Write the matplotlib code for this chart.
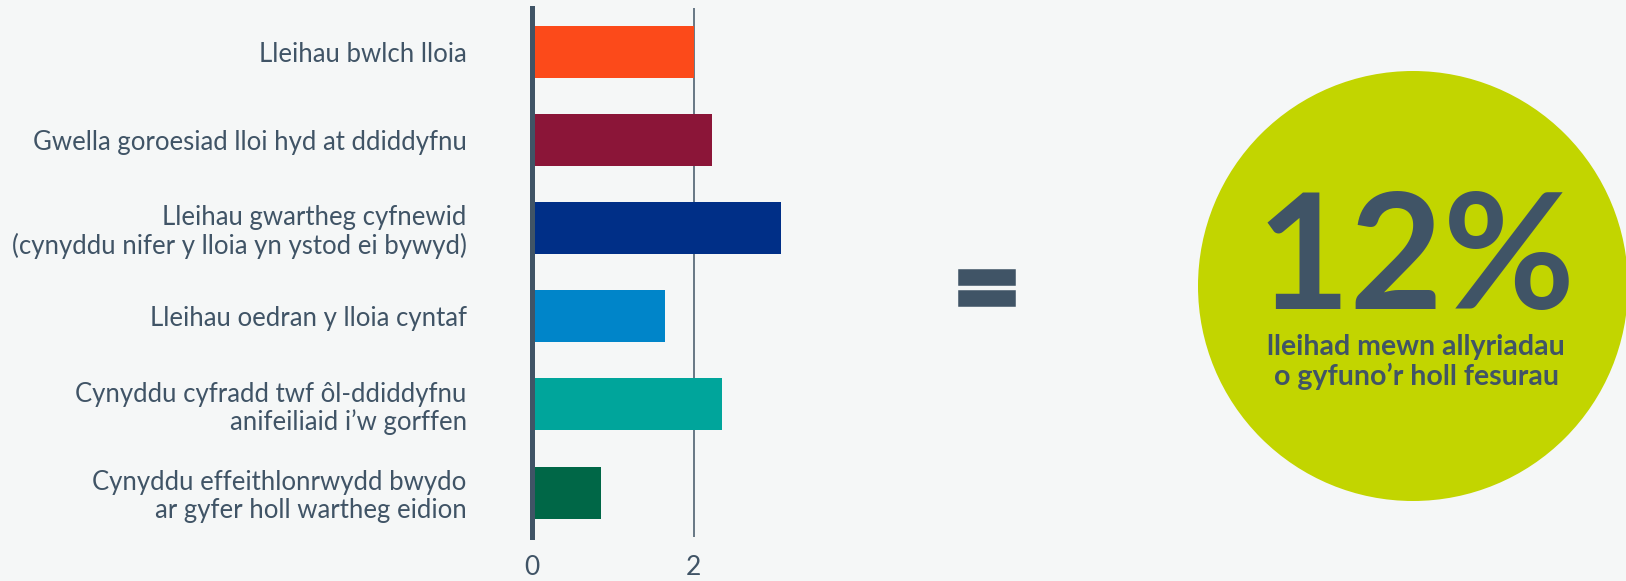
import matplotlib
matplotlib.use('Agg')
import matplotlib.pyplot as plt
import matplotlib.patheffects as pe
from matplotlib.patches import Circle

# Data
labels = [
    'Lleihau bwlch lloia',
    'Gwella goroesiad lloi hyd at ddiddyfnu',
    'Lleihau gwartheg cyfnewid\n(cynyddu nifer y lloia yn ystod ei bywyd)',
    'Lleihau oedran y lloia cyntaf',
    'Cynyddu cyfradd twf ôl-ddiddyfnu\nanifeiliaid i\u2019w gorffen',
    'Cynyddu effeithlonrwydd bwydo\nar gyfer holl wartheg eidion',
]
values = [2.0, 2.22, 3.08, 1.65, 2.35, 0.85]
colors = ['#fc4a1a', '#8b1538', '#002f87', '#0085c9', '#00a59b', '#006747']
xticks = [0, 2]
total_pct = '12%'
total_text = 'lleihad mewn allyriadau\no gyfuno\u2019r holl fesurau'

BG = '#f5f7f7'
INK = '#405466'
LIME = '#c2d500'

plt.rcParams['font.family'] = ['Lato', 'DejaVu Sans']

W, H = 1626, 581
fig = plt.figure(figsize=(W / 100, H / 100), dpi=100)
fig.patch.set_facecolor(BG)

# background layer in pixel coordinates for the circle / equals sign
bg = fig.add_axes([0, 0, 1, 1], zorder=0)
bg.set_xlim(0, W)
bg.set_ylim(H, 0)
bg.axis('off')
bg.set_facecolor(BG)

bg.add_patch(Circle((1413, 286), 215, color=LIME, lw=0))
bg.text(1416, 262, total_pct, ha='center', va='center', fontsize=116,
        fontweight='bold', color=INK)
bg.text(1416, 362, total_text, ha='center', va='center', fontsize=20.5,
        fontweight='bold', color=INK, linespacing=1.12)
bg.text(987, 294, '=', ha='center', va='center', fontsize=86,
        fontweight='bold', color=INK,
        path_effects=[pe.withStroke(linewidth=4, foreground=INK,
                                    joinstyle='miter')])

# bar chart
x0 = 532 / W
unit = 80.9 / W
ax = fig.add_axes([x0, 44.4 / H, 4 * unit, 528.7 / H], zorder=1)
ax.patch.set_alpha(0)

ypos = list(range(len(labels)))
ax.barh(ypos, values, height=0.59, color=colors, zorder=2)
ax.set_ylim(len(labels) - 0.5, -0.5)
ax.set_xlim(0, 4)

ax.set_yticks(ypos)
ax.set_yticklabels(labels, fontsize=18.5, color=INK, linespacing=1.15)
ax.set_xticks(xticks)
ax.set_xticklabels([str(t) for t in xticks], fontsize=19, color=INK)
ax.tick_params(axis='y', length=0, pad=47)
ax.tick_params(axis='x', length=0, pad=13)

ax.xaxis.grid(True, color=INK, lw=1.1, zorder=1)
ax.set_axisbelow(True)
for s in ['top', 'right', 'bottom']:
    ax.spines[s].set_visible(False)
ax.spines['left'].set_color(INK)
ax.spines['left'].set_linewidth(3.6)
ax.spines['left'].set_zorder(3)

fig.savefig('out.png', dpi=100, facecolor=BG)
